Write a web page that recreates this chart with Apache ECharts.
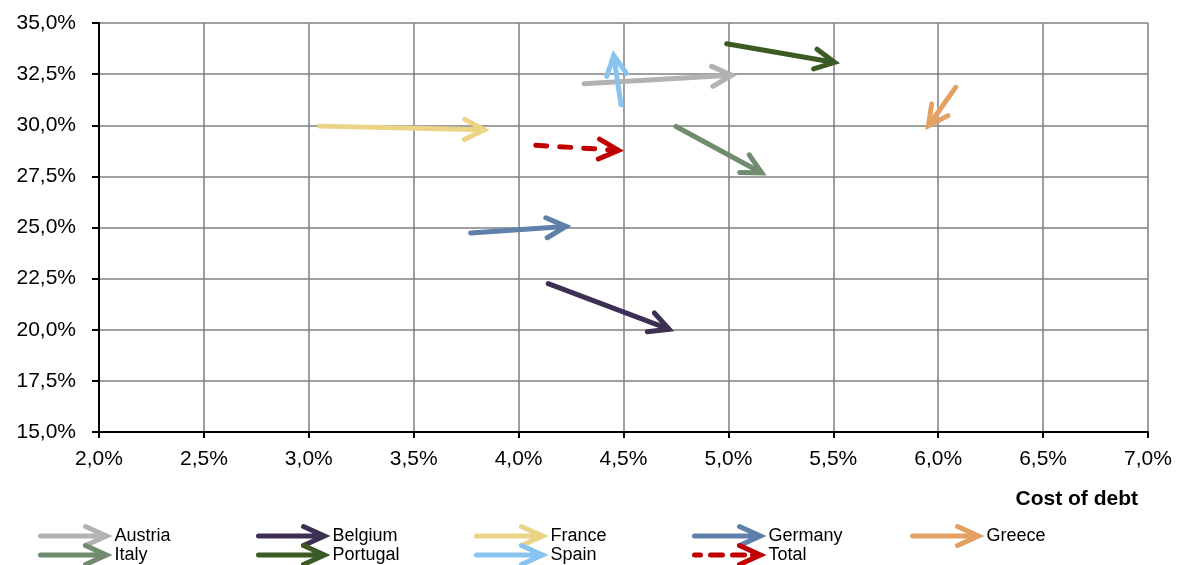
<!DOCTYPE html>
<html>
<head>
<meta charset="utf-8">
<script src="https://cdn.jsdelivr.net/npm/echarts@6/dist/echarts.min.js"></script>
<style>
  html, body { margin: 0; padding: 0; background: #ffffff; }
  #chart { width: 1181px; height: 565px; }
</style>
</head>
<body>
<div id="chart"></div>
<script>
// Movement of each market from one period to the next:
// start point -> end point (cost of debt on x, share on y, both in %)
const countries  = ['Austria', 'Belgium', 'France', 'Germany', 'Greece', 'Italy', 'Portugal', 'Spain', 'Total'];
const debtStart  = [4.30, 4.13, 3.04, 3.76, 6.09, 4.74, 4.98, 4.49, 4.07];
const debtEnd    = [5.04, 4.74, 3.86, 4.25, 5.94, 5.18, 5.53, 4.45, 4.50];
const shareStart = [32.02, 22.30, 29.96, 24.72, 31.95, 30.00, 34.01, 30.88, 29.03];
const shareEnd   = [32.46, 19.94, 29.77, 25.07, 29.77, 27.55, 33.03, 33.65, 28.76];

// Axis ticks (%)
const xTicks = [2.0, 2.5, 3.0, 3.5, 4.0, 4.5, 5.0, 5.5, 6.0, 6.5, 7.0];
const yTicks = [15.0, 17.5, 20.0, 22.5, 25.0, 27.5, 30.0, 32.5, 35.0];
const xAxisTitle = 'Cost of debt';

// Legend columns (two rows each)
const legendColumns = [
  ['Austria', 'Italy'],
  ['Belgium', 'Portugal'],
  ['France', 'Spain'],
  ['Germany', 'Total'],
  ['Greece']
];

// Styling
const palette = {
  Austria: '#b2b2b2',
  Belgium: '#3d3052',
  France: '#ebd486',
  Germany: '#6080ab',
  Greece: '#e3a163',
  Italy: '#708b6e',
  Portugal: '#3b5a24',
  Spain: '#88c4ef',
  Total: '#c00000'
};
const dashedSeries = { Total: true };
const FONT = 'Liberation Sans, Arial, sans-serif';
const ARROW_W = 5;
const HEAD_LEN = 22;
const HEAD_ANGLE = 27 * Math.PI / 180;

const pctLabel = v => v.toFixed(1).replace('.', ',') + '%';

function renderArrow(params, api) {
  const p0 = api.coord([api.value(0), api.value(1)]);
  const p1 = api.coord([api.value(2), api.value(3)]);
  const dx = p1[0] - p0[0], dy = p1[1] - p0[1];
  const len = Math.hypot(dx, dy) || 1;
  const ux = dx / len, uy = dy / len;
  // apex pulled back so the mitred point lands on the end value
  const tip = [p1[0] - ux * 5, p1[1] - uy * 5];
  const bx = -ux, by = -uy;
  const arm = a => [
    tip[0] + (bx * Math.cos(a) - by * Math.sin(a)) * HEAD_LEN,
    tip[1] + (bx * Math.sin(a) + by * Math.cos(a)) * HEAD_LEN
  ];
  const color = api.visual('color');
  const dashed = dashedSeries[countries[params.seriesIndex]];
  return {
    type: 'group',
    children: [
      {
        type: 'line',
        shape: {
          x1: p0[0] + ux * 2.5, y1: p0[1] + uy * 2.5,
          x2: tip[0] - ux * 1, y2: tip[1] - uy * 1
        },
        style: {
          stroke: color, lineWidth: ARROW_W, lineCap: 'round',
          lineDash: dashed ? [11, 13] : null
        }
      },
      {
        type: 'polyline',
        shape: { points: [arm(HEAD_ANGLE), tip, arm(-HEAD_ANGLE)] },
        style: {
          stroke: color, fill: 'none', lineWidth: ARROW_W,
          lineCap: 'round', lineJoin: 'miter', miterLimit: 10
        }
      }
    ]
  };
}

// Legend glyphs: shaft + open head; the dashed one is built from short strokes
const ICON_SOLID = 'path://M0,9.5L66,9.5M45,0L66,9.5L45,19';
const ICON_DASHED = 'path://M0,9.5L6,9.5M16,9.5L28,9.5M38,9.5L50,9.5M58,9.5L66,9.5M45,0L66,9.5L45,19';

const legendLefts = [38, 256, 474, 692, 910];

const series = countries.map((name, i) => ({
  type: 'custom',
  name: name,
  renderItem: renderArrow,
  itemStyle: { color: palette[name] },
  encode: { x: [0, 2], y: [1, 3] },
  data: [[debtStart[i], shareStart[i], debtEnd[i], shareEnd[i]]],
  silent: true,
  z: 3
}));

const legends = legendColumns.map((names, c) => ({
  orient: 'vertical',
  left: legendLefts[c],
  top: 524,
  width: 200,
  height: 80,
  padding: 0,
  itemGap: -5,
  itemWidth: 66,
  itemHeight: 19,
  selectedMode: false,
  textStyle: {
    fontFamily: FONT, fontSize: 18, lineHeight: 19, color: '#000',
    padding: [0, 0, 0, 3]
  },
  data: names.map(n => ({
    name: n,
    icon: dashedSeries[n] ? ICON_DASHED : ICON_SOLID,
    itemStyle: {
      color: 'none',
      borderColor: palette[n],
      borderWidth: 5,
      borderType: 'solid',
      borderCap: 'round',
      borderJoin: 'miter'
    }
  }))
}));

const axisCommon = {
  type: 'value',
  axisLine: { show: true, onZero: false, lineStyle: { color: '#000', width: 2 } },
  axisTick: { show: true, lineStyle: { color: '#000', width: 2 } },
  splitLine: { show: true, lineStyle: { color: '#808080', width: 1.5 } },
  axisLabel: { color: '#000', fontFamily: FONT, fontSize: 21, formatter: pctLabel }
};

const chart = echarts.init(document.getElementById('chart'), null, { renderer: 'canvas' });
chart.setOption({
  animation: false,
  backgroundColor: '#ffffff',
  grid: {
    left: 99, right: 33, top: 23, bottom: 133,
    containLabel: false,
    outerBoundsMode: 'none'
  },
  xAxis: Object.assign({}, axisCommon, {
    min: xTicks[0],
    max: xTicks[xTicks.length - 1],
    interval: xTicks[1] - xTicks[0],
    axisTick: { show: true, length: 6, lineStyle: { color: '#000', width: 2 } },
    axisLabel: Object.assign({}, axisCommon.axisLabel, { margin: 17 }),
    name: xAxisTitle,
    nameLocation: 'end',
    nameGap: -10,
    nameMoveOverlap: false,
    nameTextStyle: {
      fontFamily: FONT, fontSize: 21, fontWeight: 'bold', color: '#000',
      align: 'right', verticalAlign: 'top', padding: [57, 0, 0, 0]
    }
  }),
  yAxis: Object.assign({}, axisCommon, {
    min: yTicks[0],
    max: yTicks[yTicks.length - 1],
    interval: yTicks[1] - yTicks[0],
    axisTick: { show: true, length: 7, lineStyle: { color: '#000', width: 2 } },
    axisLabel: Object.assign({}, axisCommon.axisLabel, { margin: 23 })
  }),
  legend: legends,
  series: series
});
</script>
</body>
</html>
